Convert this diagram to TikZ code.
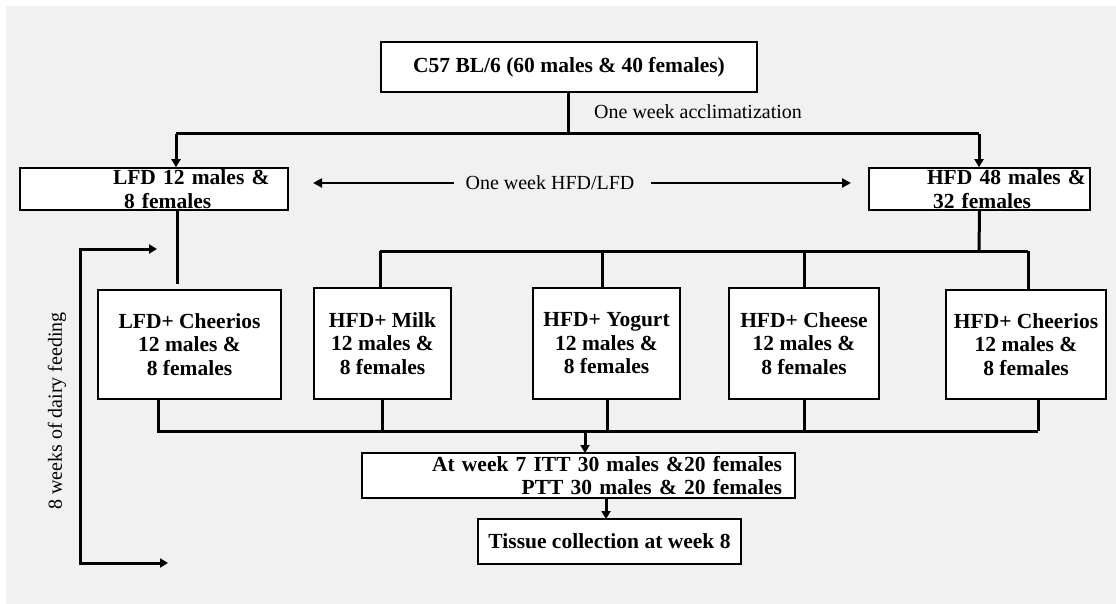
\documentclass[tikz,border=0pt]{standalone}
\usepackage{fontspec}
\setmainfont{Liberation Serif}
\usetikzlibrary{arrows.meta}
\definecolor{bggray}{HTML}{F1F1F1}
\begin{document}
\begin{tikzpicture}[x=1pt,y=-1pt,
  box/.style={draw=black, line width=1.6pt, fill=white, inner sep=0pt, font=\fontsize{21.5}{23.5}\selectfont\bfseries, align=center},
  conn/.style={line width=3pt},
  arr/.style={line width=3pt, -{Triangle[length=8pt,width=9pt]}},
  harr/.style={line width=2.6pt, -{Triangle[length=9pt,width=9pt]}},
  lbl/.style={font=\fontsize{20}{23}\selectfont, inner sep=0pt}]
\useasboundingbox (0,0) rectangle (1116,604);
\fill[bggray] (6,6) rectangle (1116,604);

% boxes
\node[box, minimum width=376pt, minimum height=50pt] (c57) at (569,67) {C57 BL/6 (60 males \& 40 females)};
\node[box, minimum width=268pt, minimum height=42pt, align=left, text width=268pt] (lfd) at (154,189) {\hspace*{93pt}LFD 12 males \&\\\hspace*{104pt}8 females};
\node[box, minimum width=221pt, minimum height=42pt, align=left, text width=221pt] (hfd) at (979.5,189) {\hspace*{58pt}HFD 48 males \&\\\hspace*{64pt}32 females};

\node[box, minimum width=183pt, minimum height=109pt] (lc) at (189.5,344.5) {LFD+ Cheerios\\12 males \&\\8 females};
\node[box, minimum width=137pt, minimum height=111pt] (milk) at (382.5,343.5) {HFD+ Milk\\12 males \&\\8 females};
\node[box, minimum width=147pt, minimum height=111pt] (yog) at (606.5,343.5) {HFD+ Yogurt\\12 males \&\\8 females};
\node[box, minimum width=150pt, minimum height=111pt] (chs) at (804,343.5) {HFD+ Cheese\\12 males \&\\8 females};
\node[box, minimum width=160pt, minimum height=109pt] (hc) at (1026,344.5) {HFD+ Cheerios\\12 males \&\\8 females};

\node[box, minimum width=433pt, minimum height=45pt, align=right, text width=407pt] (wk) at (578.5,475.5) {At week 7 ITT 30 males \&20 females\\PTT 30 males \& 20 females};
\node[box, minimum width=263pt, minimum height=45pt] (tis) at (609.5,541.5) {Tissue collection at week 8};

% labels
\node[lbl, anchor=west] (acc) at (594,112) {One week acclimatization};
\node[lbl] (hl) at (550,183) {One week HFD/LFD};
\node[lbl, rotate=90] (dairy) at (57,411) {8 weeks of dairy feeding};

% top branch
\coordinate (b1) at (176,134);
\coordinate (b2) at (979,134);
\draw[conn] (568,92) -- (568,134);
\draw[conn] (b1) -- (b2);
\draw[arr] (b1) -- (b1 |- lfd.north);
\draw[arr] (b2) -- (b2 |- hfd.north);

% HFD/LFD arrows
\draw[harr] (454,183) -- (313,183);
\draw[harr] (651,183) -- (851,183);

% LFD down
\draw[conn] (177,210) -- (177,284);

% HFD branch
\coordinate (h0) at (979,251);
\draw[conn] (hfd.south) -- (h0);
\draw[conn] (380,251) -- (1028,251);
\draw[conn] (380,251) -- (380,288);
\draw[conn] (602,251) -- (602,288);
\draw[conn] (804,251) -- (804,288);
\draw[conn] (1028,251) -- (1028,290);

% bottom merge
\draw[conn] (158,399) -- (158,431) -- (1038,431);
\draw[conn] (382,399) -- (382,431);
\draw[conn] (607,399) -- (607,431);
\draw[conn] (804,399) -- (804,431);
\draw[conn] (1038,399) -- (1038,431);
\draw[arr] (585,431) -- (585,453);
\draw[arr] (606,498) -- (606,519);

% dairy bracket
\draw[arr] (80,563) -- (80,249) -- (157,249);
\draw[arr] (80,400) -- (80,563) -- (168,563);
\end{tikzpicture}
\end{document}
